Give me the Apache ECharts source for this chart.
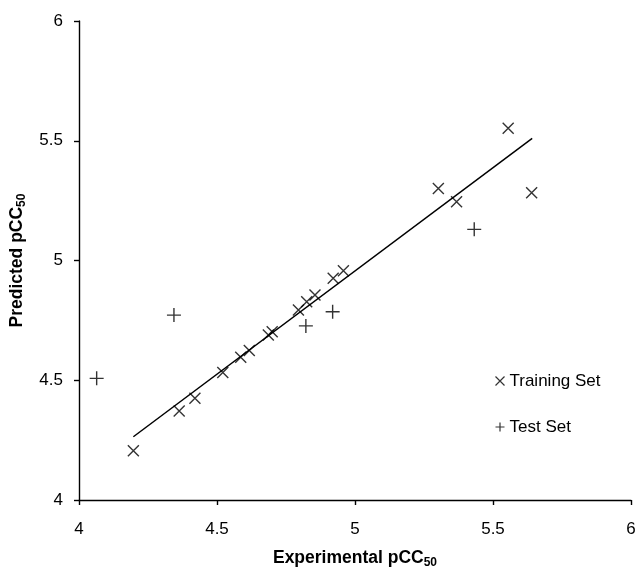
<!DOCTYPE html>
<html>
<head>
<meta charset="utf-8">
<script src="https://cdn.jsdelivr.net/npm/echarts@6/dist/echarts.min.js"></script>
<style>
html, body { margin: 0; padding: 0; background: #fff; }
#chart { width: 637px; height: 569px; }
</style>
</head>
<body>
<div id="chart"></div>
<script>
// experimental vs predicted pCC50
var trainExp  = [4.197, 4.363, 4.420, 4.521, 4.586, 4.617, 4.686, 4.700, 4.795, 4.825, 4.855, 4.921, 4.958, 5.302, 5.368, 5.555, 5.640];
var trainPred = [4.206, 4.372, 4.425, 4.532, 4.596, 4.624, 4.689, 4.703, 4.793, 4.828, 4.856, 4.926, 4.957, 5.301, 5.245, 5.552, 5.283];
var testExp   = [4.064, 4.344, 4.822, 4.919, 5.432];
var testPred  = [4.508, 4.772, 4.727, 4.786, 5.130];
var fitX = [4.197, 5.642];
var fitY = [4.264, 5.510];
var axisTicks = [4, 6, 0.5];

var chart = echarts.init(document.getElementById("chart"));

function pairs(xs, ys){
	var out = [];
	for (var i = 0; i < xs.length; i++) out.push([xs[i], ys[i]]);
	return out;
}

var crossPath = 'path://M0,0L10,10M10,0L0,10';
var plusPath = 'path://M5,0L5,10M0,5L10,5';
var font = 'Arial, "Liberation Sans", sans-serif';

var titleRich = {
	t: {fontSize: 17.5, fontWeight: 'bold', fontFamily: font, color: '#000'},
	s: {fontSize: 12, fontWeight: 'bold', fontFamily: font, color: '#000', verticalAlign: 'bottom', padding: [9, 0, 0, 0]}
};

var axisCommon = {
	type: 'value',
	min: axisTicks[0],
	max: axisTicks[1],
	interval: axisTicks[2],
	nameLocation: 'middle',
	splitLine: {show: false},
	axisLine: {show: true, onZero: false, lineStyle: {color: '#000', width: 1.4}},
	axisTick: {show: true, inside: false, length: 5, lineStyle: {color: '#000', width: 1.4}},
	axisLabel: {color: '#000', fontSize: 17, fontFamily: font}
};

var option = {
	animation: false,
	backgroundColor: '#fff',
	grid: {left: 79, right: 6, top: 21, bottom: 69, outerBoundsMode: 'none', containLabel: false},
	legend: {
		orient: 'vertical',
		left: 488,
		top: 366,
		itemGap: 26,
		itemWidth: 9,
		itemHeight: 9,
		itemStyle: {color: 'none', borderColor: '#000', borderWidth: 1.2},
		textStyle: {color: '#000', fontSize: 17, fontFamily: font, lineHeight: 20},
		data: [
			{name: 'Training Set', icon: crossPath},
			{name: 'Test Set', icon: plusPath}
		]
	},
	xAxis: echarts.util.merge({
		name: '{t|Experimental pCC}{s|50}',
		nameGap: 48,
		nameTextStyle: {rich: titleRich},
		axisLabel: {margin: 21}
	}, axisCommon),
	yAxis: echarts.util.merge({
		name: '{t|Predicted pCC}{s|50}',
		nameGap: 51,
		nameTextStyle: {rich: titleRich},
		axisLabel: {margin: 16}
	}, axisCommon),
	series: [
		{
			name: 'fit',
			type: 'line',
			data: pairs(fitX, fitY),
			symbol: 'none',
			lineStyle: {color: '#000', width: 1.5},
			z: 1
		},
		{
			name: 'Training Set',
			type: 'scatter',
			data: pairs(trainExp, trainPred),
			symbol: crossPath,
			symbolSize: 11,
			itemStyle: {color: 'none', borderColor: '#000', borderWidth: 1.4},
			z: 2
		},
		{
			name: 'Test Set',
			type: 'scatter',
			data: pairs(testExp, testPred),
			symbol: plusPath,
			symbolSize: 14,
			itemStyle: {color: 'none', borderColor: '#000', borderWidth: 1.4},
			z: 2
		}
	]
};

chart.setOption(option);
</script>
</body>
</html>
